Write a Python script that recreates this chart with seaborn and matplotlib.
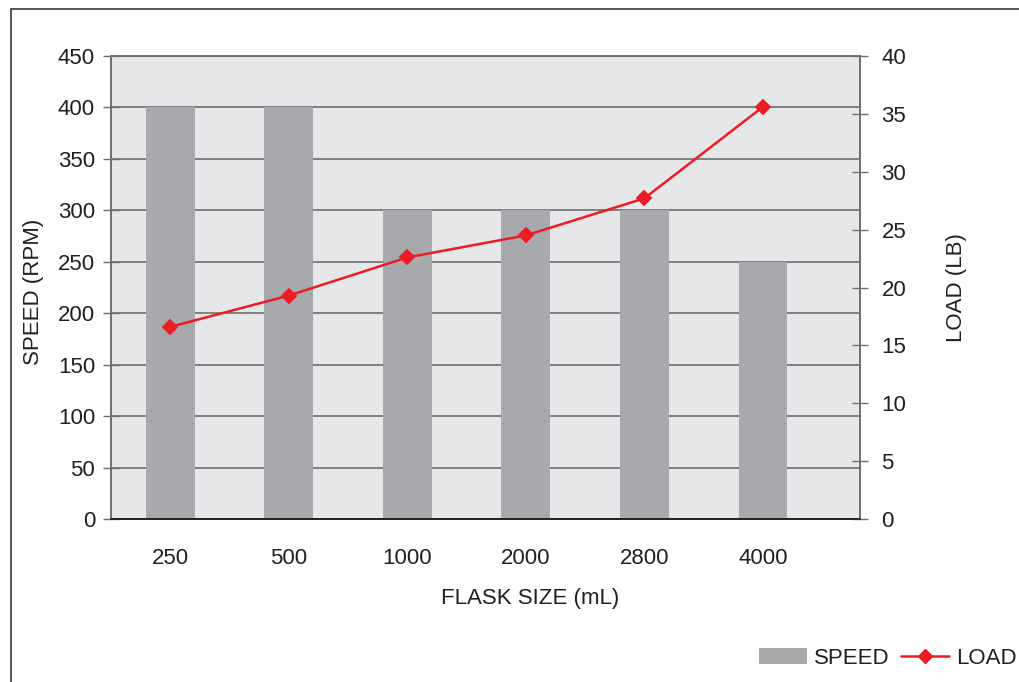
import numpy as np
import matplotlib
matplotlib.use("Agg")
import matplotlib.pyplot as plt
from matplotlib.patches import Patch
from matplotlib.lines import Line2D
import seaborn as sns

# ---- data ----
flask_sizes = ["250", "500", "1000", "2000", "2800", "4000"]
speed_rpm = [400, 400, 300, 300, 300, 250]
load_lb = [16.6, 19.3, 22.6, 24.5, 27.7, 35.6]
speed_ticks = [0, 50, 100, 150, 200, 250, 300, 350, 400, 450]
load_ticks = [0, 5, 10, 15, 20, 25, 30, 35, 40]

BAR_C = "#a7a9ac"
BG_C = "#e6e7e8"
GRID_C = "#6d6e71"
RED = "#ed1c24"
TXT = "#231f20"

sns.set_theme(style="white")
plt.rcParams["font.family"] = ["Liberation Sans", "DejaVu Sans"]
plt.rcParams["text.color"] = TXT
plt.rcParams["axes.labelcolor"] = TXT
plt.rcParams["xtick.color"] = TXT
plt.rcParams["ytick.color"] = TXT

fig = plt.figure(figsize=(10.19, 6.82), dpi=100)
ax = fig.add_axes([111/1019, 1-519/682, (860-111)/1019, (519-56)/682])
ax.set_facecolor(BG_C)

sns.barplot(x=flask_sizes, y=speed_rpm, order=flask_sizes, color=BAR_C,
            saturation=1, width=0.41, linewidth=0, ax=ax)

ax2 = ax.twinx()
sns.pointplot(x=flask_sizes, y=load_lb, order=flask_sizes, color=RED,
              markers="D", markersize=7, linewidth=1.8, ax=ax2)

FS = 16
XMAX = 5.82
ax.set_ylim(0, 450)
ax2.set_ylim(0, 40)
ax.set_xlim(-0.5, XMAX)

ax.set_yticks(speed_ticks)
ax.set_yticklabels([str(v) for v in speed_ticks], fontsize=FS)
ax2.set_yticks(load_ticks)
ax2.set_yticklabels([str(v) for v in load_ticks], fontsize=FS)
ax.set_xticks(range(len(flask_sizes)))
ax.set_xticklabels(flask_sizes, fontsize=FS)
ax.set_xticks([-0.5, 0.5, 1.5, 2.5, 3.5, 4.5, XMAX], minor=True)

ax.tick_params(axis="x", which="major", length=0, pad=21)
ax.tick_params(axis="x", which="minor", length=10, direction="inout",
               width=1, color=TXT)
ax.tick_params(axis="y", which="major", length=12, direction="inout",
               width=1, color=GRID_C, pad=5.5, left=True)
ax2.tick_params(axis="y", which="major", length=12, direction="inout",
                width=1, color=GRID_C, pad=9.5, right=True)

ax.set_axisbelow(True)
ax.yaxis.grid(True, color=GRID_C, linewidth=1.2)
ax.xaxis.grid(False)
ax2.grid(False)

for a in (ax, ax2):
    for s in a.spines.values():
        s.set_visible(True)
        s.set_color(GRID_C)
        s.set_linewidth(1.2)
    a.spines["bottom"].set_color(TXT)

ax.set_xlabel("FLASK SIZE (mL)", fontsize=FS, va="center")
ax.xaxis.set_label_coords(0.56, -0.171)
ax.set_ylabel("SPEED (RPM)", fontsize=FS, va="center")
ax.yaxis.set_label_coords(-0.104, 0.49)
ax2.set_ylabel("LOAD (LB)", fontsize=FS, va="center", rotation=90)
ax2.yaxis.set_label_coords(1.129, 0.5)

handles = [Patch(facecolor=BAR_C, edgecolor="none", label="SPEED"),
           Line2D([], [], color=RED, marker="D", markersize=7, linewidth=1.8,
                  label="LOAD")]
fig.legend(handles=handles, loc="center right",
           bbox_to_anchor=(1017/1019, 1-658/682), ncol=2, frameon=False,
           fontsize=FS, handlelength=2.15, handleheight=0.7,
           handletextpad=0.32, columnspacing=0.55, borderpad=0,
           borderaxespad=0)

# outer frame (top and left)
fig.add_artist(Line2D([11/1019, 11/1019], [0, 1-9/682], transform=fig.transFigure,
                      color="#3a3a3a", linewidth=1.2))
fig.add_artist(Line2D([11/1019, 1], [1-9/682, 1-9/682], transform=fig.transFigure,
                      color="#3a3a3a", linewidth=1.2))

fig.savefig("out.png", dpi=100)
